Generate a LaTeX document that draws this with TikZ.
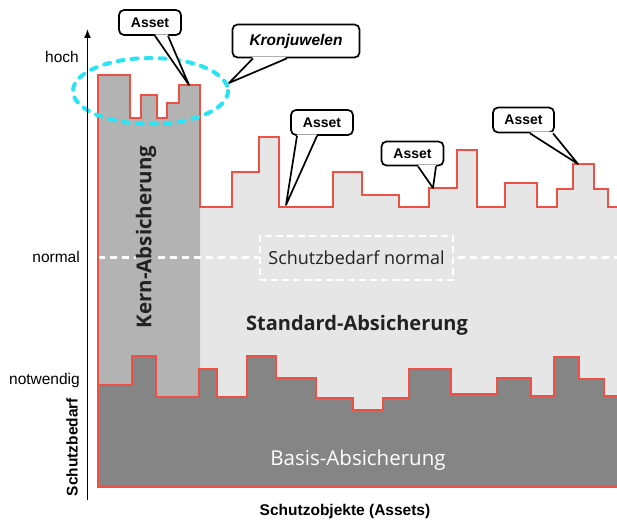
\documentclass[tikz,border=0pt]{standalone}
\usepackage{fontspec}
\setmainfont{Liberation Sans}
\newfontfamily\labelsans{Open Sans}
\usetikzlibrary{arrows.meta,calc}
\definecolor{basisgray}{RGB}{133,133,133}
\definecolor{kerngray}{RGB}{179,179,179}
\definecolor{stdgray}{RGB}{230,230,230}
\definecolor{edgered}{RGB}{238,80,70}
\definecolor{jewelcyan}{RGB}{40,228,245}
\definecolor{textdark}{RGB}{34,34,34}
\newcommand{\calloutptr}[4]{%
  \fill[white] ($(#1.south)+(#2,-1.5)$) -- (#4) -- ($(#1.south)+(#3,-1.5)$) -- cycle;
  \draw[ptrline] ($(#1.south)+(#2,0)$) -- (#4) -- ($(#1.south)+(#3,0)$);
}
\begin{document}
\begin{tikzpicture}[x=1pt,y=-1pt,
  axislabel/.style={font=\fontsize{15.5}{18}\selectfont, anchor=east, inner sep=0pt},
  axistitle/.style={font=\bfseries\fontsize{15.5}{18}\selectfont, inner sep=0pt},
  callbox/.style={draw=black, line width=1.7pt, fill=white, rounded corners=5pt,
    minimum width=62pt, minimum height=25pt, inner sep=0pt,
    font=\bfseries\fontsize{14}{16}\selectfont},
  ptrline/.style={draw=black, line width=1.7pt, line join=round},
  redline/.style={draw=edgered, line width=1.1pt, line join=miter},
  zonelabel/.style={font=\labelsans\bfseries\fontsize{20}{24}\selectfont, text=textdark, inner sep=0pt}]
\useasboundingbox (0,0) rectangle (617,521);

% upper profile: core assets plus standard assets
\fill[stdgray] (98,487) -- (98,75) -- (130,75) -- (130,118) -- (141,118) -- (141,95) -- (157,95)
  -- (157,118) -- (167,118) -- (167,103) -- (179,103) -- (179,85) -- (200,85) -- (200,207)
  -- (232,207) -- (232,172) -- (259,172) -- (259,137) -- (279,137) -- (279,207) -- (333,207)
  -- (333,172) -- (362,172) -- (362,195) -- (399,195) -- (399,207) -- (429,207) -- (429,188)
  -- (457,188) -- (457,150) -- (477,150) -- (477,207) -- (505,207) -- (505,183) -- (537,183)
  -- (537,207) -- (557,207) -- (557,189) -- (573,189) -- (573,164) -- (594,164) -- (594,189)
  -- (608,189) -- (608,207) -- (617,207) -- (617,487) -- cycle;
% core column
\fill[kerngray] (98,487) -- (98,75) -- (130,75) -- (130,118) -- (141,118) -- (141,95) -- (157,95)
  -- (157,118) -- (167,118) -- (167,103) -- (179,103) -- (179,85) -- (200,85) -- (200,487) -- cycle;

% normal level line
\draw[white, line width=3pt, dash pattern=on 7pt off 5pt] (98,257) -- (617,257);

% basis region
\fill[basisgray] (98,487) -- (98,385) -- (132,385) -- (132,356) -- (156,356) -- (156,397) -- (199,397)
  -- (199,369) -- (217,369) -- (217,397) -- (247,397) -- (247,356) -- (276,356) -- (276,378)
  -- (316,378) -- (316,398) -- (353,398) -- (353,410) -- (383,410) -- (383,398) -- (409,398)
  -- (409,369) -- (451,369) -- (451,394) -- (497,394) -- (497,378) -- (531,378) -- (531,396)
  -- (554,396) -- (554,357) -- (579,357) -- (579,379) -- (604,379) -- (604,396) -- (617,396)
  -- (617,487) -- cycle;

% red outlines
\draw[redline] (98,385) -- (98,75) -- (130,75) -- (130,118) -- (141,118) -- (141,95) -- (157,95)
  -- (157,118) -- (167,118) -- (167,103) -- (179,103) -- (179,85) -- (200,85) -- (200,207)
  -- (232,207) -- (232,172) -- (259,172) -- (259,137) -- (279,137) -- (279,207) -- (333,207)
  -- (333,172) -- (362,172) -- (362,195) -- (399,195) -- (399,207) -- (429,207) -- (429,188)
  -- (457,188) -- (457,150) -- (477,150) -- (477,207) -- (505,207) -- (505,183) -- (537,183)
  -- (537,207) -- (557,207) -- (557,189) -- (573,189) -- (573,164) -- (594,164) -- (594,189)
  -- (608,189) -- (608,207) -- (617,207);
\draw[redline] (617,396) -- (604,396) -- (604,379) -- (579,379) -- (579,357) -- (554,357) -- (554,396)
  -- (531,396) -- (531,378) -- (497,378) -- (497,394) -- (451,394) -- (451,369) -- (409,369)
  -- (409,398) -- (383,398) -- (383,410) -- (353,410) -- (353,398) -- (316,398) -- (316,378)
  -- (276,378) -- (276,356) -- (247,356) -- (247,397) -- (217,397) -- (217,369) -- (199,369)
  -- (199,397) -- (156,397) -- (156,356) -- (132,356) -- (132,385) -- (98,385) -- (98,487) -- (617,487);

% zone labels
\node[zonelabel, rotate=90, fill=kerngray, font=\labelsans\bfseries\fontsize{20.5}{24}\selectfont] (kern) at (146,237) {Kern-Absicherung};
\node[draw=white, line width=2.5pt, dash pattern=on 7pt off 4pt, fill=stdgray,
  minimum width=193pt, minimum height=44pt, inner sep=0pt,
  font=\labelsans\fontsize{18}{21}\selectfont, text=textdark] (normalbox) at (356.5,258) {Schutzbedarf normal};
\node[zonelabel] (standard) at (357,325) {Standard-Absicherung};
\node[zonelabel, font=\labelsans\fontsize{20.5}{24}\selectfont, text=white] (basis) at (358,460) {Basis-Absicherung};

% crown jewels
\draw[jewelcyan, line width=4pt, line cap=round, dash pattern=on 6pt off 8pt] (150.5,91) ellipse [x radius=77.5, y radius=33];

% axes
\draw[line width=1.6pt, -{Latex[length=9pt,width=7pt]}] (87.5,500) -- (87.5,29);
\node[axislabel] (hoch) at (79,57) {hoch};
\node[axislabel] (normal) at (80,257) {normal};
\node[axislabel] (notw) at (80,380) {notwendig};
\node[axistitle, rotate=90] (ytitle) at (72,447) {Schutzbedarf};
\node[axistitle] (xtitle) at (345,511) {Schutzobjekte (Assets)};

% callouts
\coordinate (t1) at (189,85);
\coordinate (tk) at (229,83);
\coordinate (t2) at (286,205);
\coordinate (t3) at (433,188);
\coordinate (t4) at (578,164);
\node[callbox] (a1) at (150,22.5) {Asset};
\calloutptr{a1}{5}{18}{t1}
\node[callbox, minimum width=127pt, minimum height=33pt, font=\bfseries\itshape\fontsize{15.5}{18}\selectfont] (kron) at (296,41) {Kronjuwelen};
\calloutptr{kron}{-43}{-9}{tk}
\node[callbox] (a2) at (322,122.5) {Asset};
\calloutptr{a2}{-25}{-5}{t2}
\node[callbox, minimum height=24pt] (a3) at (412.5,153.5) {Asset};
\calloutptr{a3}{5.5}{23.5}{t3}
\node[callbox, minimum width=61pt] (a4) at (523.5,120) {Asset};
\calloutptr{a4}{6.5}{29.5}{t4}
\end{tikzpicture}
\end{document}
